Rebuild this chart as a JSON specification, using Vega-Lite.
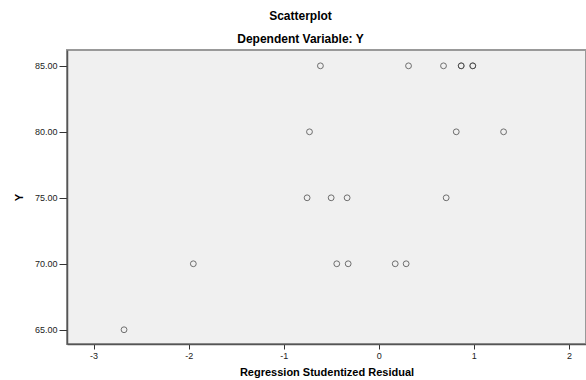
{
  "$schema": "https://vega.github.io/schema/vega-lite/v6.json",
  "autosize": "none",
  "width": 519,
  "height": 294,
  "padding": {"left": 67, "top": 50, "right": 0, "bottom": 36},
  "background": "white",
  "title": {
    "text": "Scatterplot",
    "subtitle": "Dependent Variable: Y",
    "anchor": "middle",
    "frame": "group",
    "dx": -26,
    "font": "Liberation Sans",
    "fontSize": 12,
    "fontWeight": "bold",
    "color": "#000",
    "subtitleFont": "Liberation Sans",
    "subtitleFontSize": 12,
    "subtitleFontWeight": "bold",
    "subtitleColor": "#000",
    "subtitlePadding": 11,
    "offset": 4
  },
  "config": {
    "view": {"fill": "#f0f0f0", "stroke": "#999", "strokeWidth": 2},
    "axis": {
      "grid": false,
      "domainColor": "#555",
      "domainWidth": 1.5,
      "tickColor": "#333",
      "tickSize": 5,
      "labelFont": "Liberation Sans",
      "labelFontSize": 9,
      "labelColor": "#222",
      "titleFont": "Liberation Sans",
      "titleFontSize": 11,
      "titleFontWeight": "bold",
      "titleColor": "#000"
    }
  },
  "data": {
    "values": [
      {"residual": -0.614, "y": 85},
      {"residual": 0.313, "y": 85},
      {"residual": 0.681, "y": 85},
      {"residual": 0.867, "y": 85},
      {"residual": 0.867, "y": 85},
      {"residual": 0.989, "y": 85},
      {"residual": 0.989, "y": 85},
      {"residual": -0.729, "y": 80},
      {"residual": 0.815, "y": 80},
      {"residual": 1.313, "y": 80},
      {"residual": -0.754, "y": 75},
      {"residual": -0.501, "y": 75},
      {"residual": -0.333, "y": 75},
      {"residual": 0.709, "y": 75},
      {"residual": -1.951, "y": 70},
      {"residual": -0.442, "y": 70},
      {"residual": -0.322, "y": 70},
      {"residual": 0.173, "y": 70},
      {"residual": 0.288, "y": 70},
      {"residual": -2.68, "y": 65}
    ]
  },
  "mark": {"type": "point", "shape": "circle", "filled": false, "stroke": "#444", "strokeWidth": 1, "size": 34, "opacity": 0.75},
  "encoding": {
    "x": {
      "field": "residual",
      "type": "quantitative",
      "scale": {"domain": [-3.28, 2.18], "nice": false, "zero": false},
      "axis": {"values": [-3, -2, -1, 0, 1, 2], "labelExpr": "'' + datum.value", "title": "Regression Studentized Residual", "labelPadding": 2, "titlePadding": 6}
    },
    "y": {
      "field": "y",
      "type": "quantitative",
      "scale": {"domain": [63.92, 86.2], "nice": false, "zero": false},
      "axis": {"values": [65, 70, 75, 80, 85], "format": ".2f", "title": "Y", "labelPadding": 2, "titlePadding": 10, "tickSize": 8}
    }
  }
}
